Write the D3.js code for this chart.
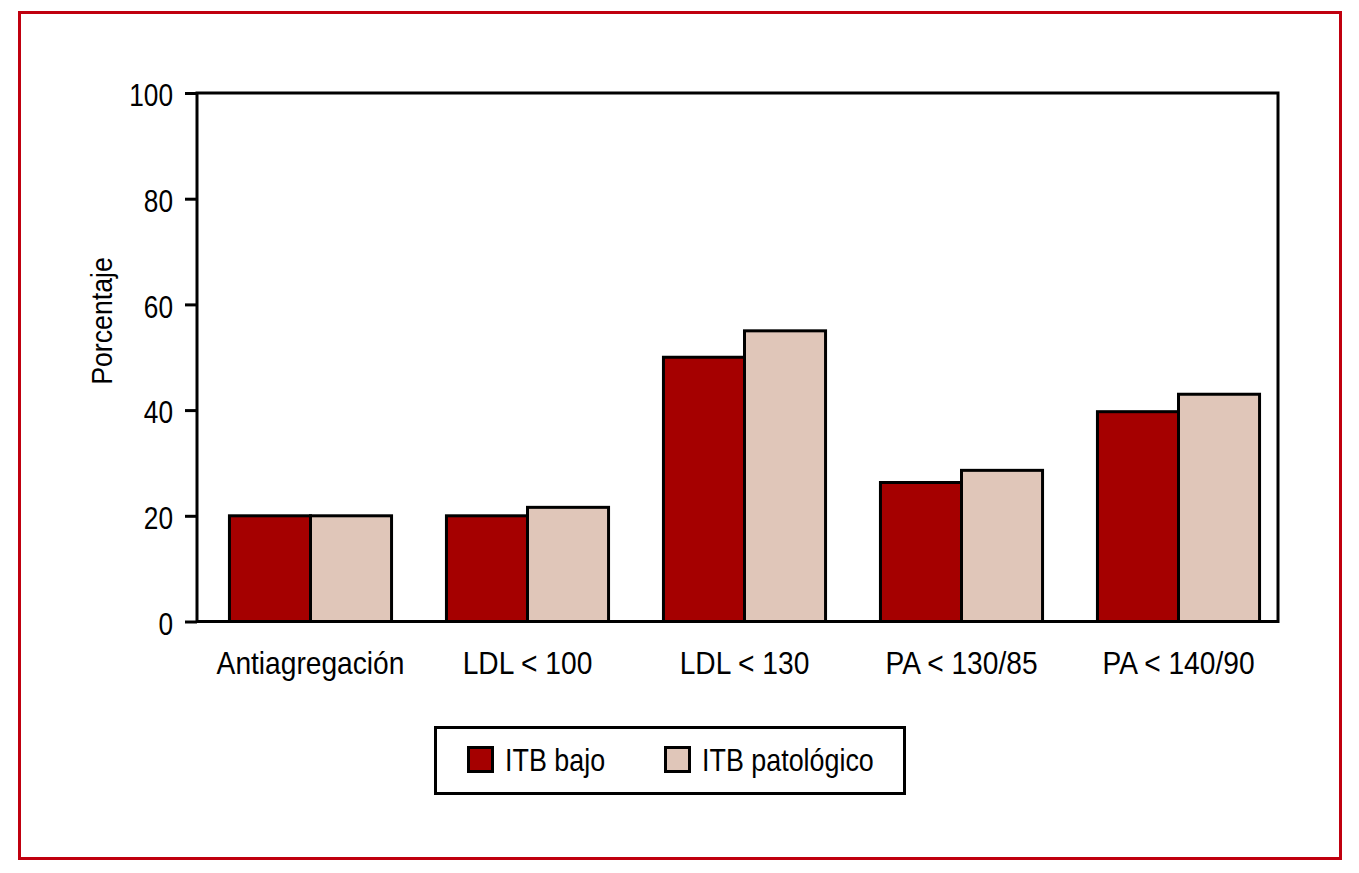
<!DOCTYPE html>
<html>
<head>
<meta charset="utf-8">
<script src="https://cdn.jsdelivr.net/npm/d3@7"></script>
<style>
  body { margin: 0; background: #fff; }
  text { font-family: "Liberation Sans", Arial, sans-serif; fill: #000; }
</style>
</head>
<body>
<svg id="chart" width="1359" height="873"></svg>
<script>
var categories = ["Antiagregación", "LDL < 100", "LDL < 130", "PA < 130/85", "PA < 140/90"];
var seriesNames = ["ITB bajo", "ITB patológico"];
var itbBajo = [20, 20, 50, 26.3, 39.7];
var itbPatologico = [20, 21.6, 55, 28.6, 43];
var yTicks = [0, 20, 40, 60, 80, 100];
var colors = ["#a50000", "#e0c6b9"];

var svg = d3.select("#chart");

// narrow text: Liberation Sans squeezed horizontally
function narrow(sel, x, y, sx) {
    return sel.attr("x", 0).attr("y", 0)
        .attr("transform", "translate(" + x + "," + y + ") scale(" + sx + ",1)");
}

// outer red frame
svg.append("rect")
    .attr("x", 19.5).attr("y", 12.5)
    .attr("width", 1321).attr("height", 846)
    .attr("fill", "none").attr("stroke", "#c0000f").attr("stroke-width", 3);

var plot = { left: 197, right: 1278, top: 93, bottom: 621.5 };

var y = d3.scaleLinear().domain([0, 100]).range([plot.bottom, plot.top]);
var x0 = d3.scaleBand().domain(categories).range([202, 1287]).paddingInner(0.253).paddingOuter(0.1265);
var x1 = d3.scaleBand().domain(seriesNames).range([0, x0.bandwidth()]);

var rows = categories.map(function (c, i) {
    return { cat: c, values: [itbBajo[i], itbPatologico[i]] };
});

var groups = svg.append("g").selectAll("g")
    .data(rows).enter().append("g")
    .attr("transform", function (d) { return "translate(" + x0(d.cat) + ",0)"; });

groups.selectAll("rect")
    .data(function (d) { return d.values.map(function (v, j) { return { name: seriesNames[j], v: v, j: j }; }); })
    .enter().append("rect")
    .attr("x", function (d) { return x1(d.name); })
    .attr("y", function (d) { return y(d.v); })
    .attr("width", x1.bandwidth())
    .attr("height", function (d) { return y(0) - y(d.v); })
    .attr("fill", function (d) { return colors[d.j]; })
    .attr("stroke", "#000").attr("stroke-width", 3);

// plot frame
svg.append("rect")
    .attr("x", plot.left).attr("y", plot.top)
    .attr("width", plot.right - plot.left).attr("height", plot.bottom - plot.top)
    .attr("fill", "none").attr("stroke", "#000").attr("stroke-width", 3);

// y axis
var yAxis = d3.axisLeft(y).tickValues(yTicks).tickSize(12);
var ya = svg.append("g").attr("transform", "translate(" + plot.left + ",0)").call(yAxis);
ya.select(".domain").remove();
ya.selectAll(".tick line").attr("stroke", "#000").attr("stroke-width", 3);
ya.selectAll(".tick text")
    .style("font-size", "32px").attr("dy", "0.4em")
    .each(function () { narrow(d3.select(this), -24, 0, 0.82); });

// x labels
svg.append("g").selectAll("text")
    .data(categories).enter().append("text")
    .attr("text-anchor", "middle")
    .style("font-size", "32px")
    .text(function (d) { return d; })
    .each(function (d) { narrow(d3.select(this), x0(d) + x0.bandwidth() / 2, 674, 0.88); });

// y title
svg.append("text")
    .attr("text-anchor", "middle")
    .style("font-size", "29px")
    .attr("transform", "translate(112,321) rotate(-90) scale(0.92,1)")
    .text("Porcentaje");

// legend
var lg = svg.append("g");
lg.append("rect")
    .attr("x", 435.5).attr("y", 727.5).attr("width", 469).attr("height", 66)
    .attr("fill", "#fff").attr("stroke", "#000").attr("stroke-width", 3);
var legendX = [467, 664];
seriesNames.forEach(function (n, j) {
    lg.append("rect")
        .attr("x", legendX[j] + 1.5).attr("y", 747.5).attr("width", 24).attr("height", 24)
        .attr("fill", colors[j]).attr("stroke", "#000").attr("stroke-width", 3);
    narrow(lg.append("text"), legendX[j] + 38, 771, 0.84)
        .style("font-size", "32px")
        .text(n);
});
</script>
</body>
</html>
